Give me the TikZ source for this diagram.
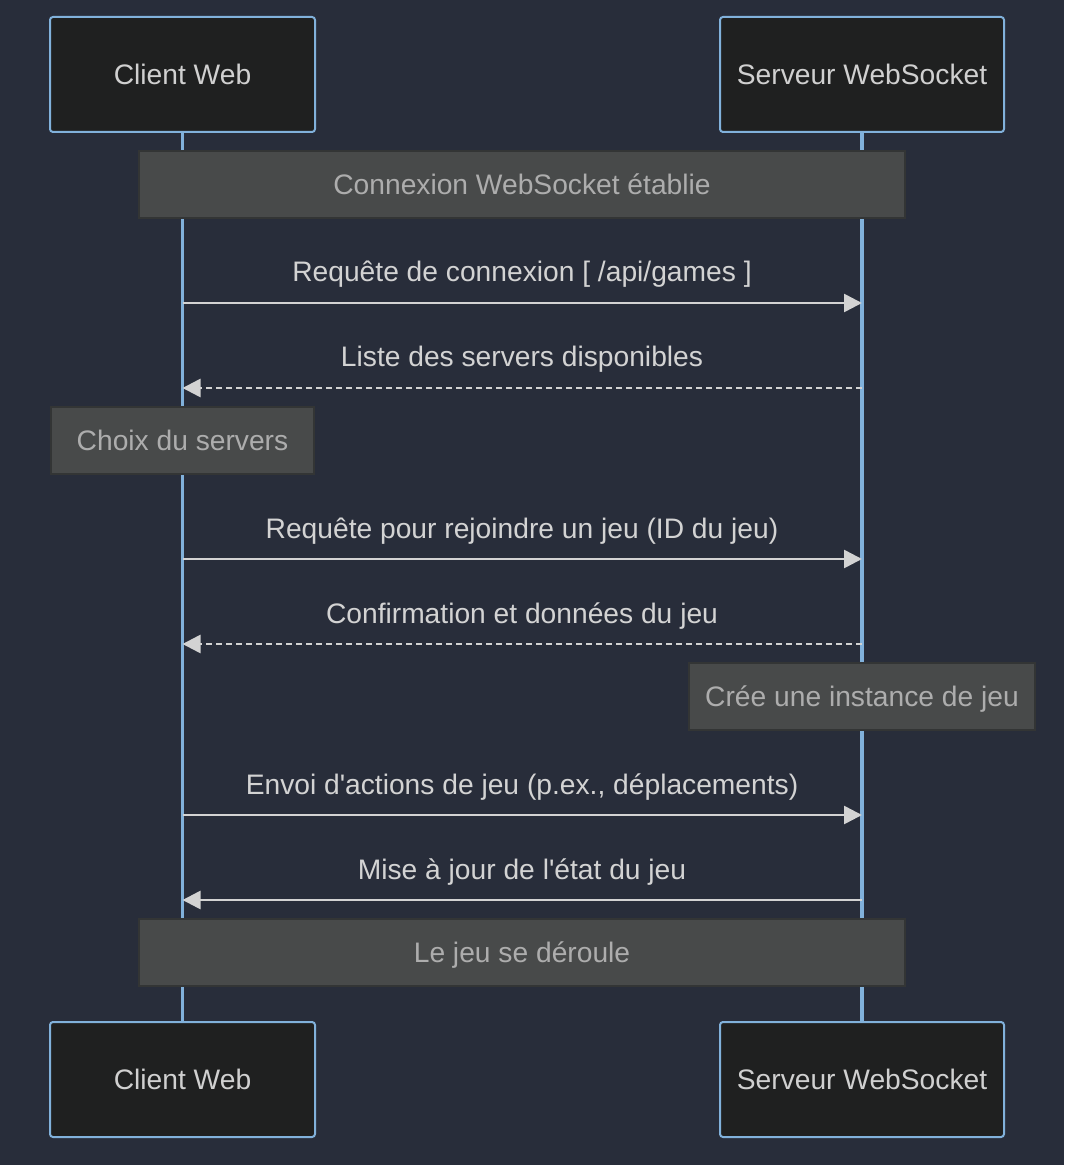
\documentclass[tikz,border=0pt]{standalone}
\usepackage{fontspec}
\setmainfont{Liberation Sans}
\usetikzlibrary{arrows.meta,positioning}
\definecolor{bgcol}{HTML}{282D3A}
\definecolor{actorfill}{HTML}{1F2020}
\definecolor{actorline}{HTML}{81B1DB}
\definecolor{notefill}{HTML}{484A4A}
\definecolor{noteline}{HTML}{333535}
\definecolor{notetext}{HTML}{ADADAD}
\definecolor{msgcol}{HTML}{D3D3D3}
\definecolor{actortext}{HTML}{D0D0D0}
\tikzstyle{actor}=[draw=actorline,fill=actorfill,line width=1pt,rounded corners=1.5pt,minimum width=132.5pt,minimum height=57.5pt,inner sep=0pt,text=actortext,text height=1em,text depth=0pt]
\tikzstyle{lifeline}=[draw=actorline,line width=1.8pt]
\tikzstyle{note}=[draw=noteline,fill=notefill,line width=0.6pt,minimum height=33.5pt,inner sep=0pt,text=notetext,text height=1em,text depth=0pt]
\tikzstyle{msg}=[draw=msgcol,line width=1.3pt,-{Triangle[length=9pt,width=9pt]}]
\tikzstyle{reply}=[msg,dash pattern=on 3pt off 2pt]
\tikzstyle{msgtext}=[text=msgcol,anchor=base,inner sep=0pt]

\begin{document}
\begin{tikzpicture}[x=0.5pt,y=-0.5pt,font=\fontsize{14.1pt}{17pt}\selectfont]
\path[use as bounding box,fill=bgcol] (0,0) rectangle (1064,1165);

    \def\xc{182.5}
    \def\xs{862}
    \def\xm{522}

%Actors
    \foreach \pos/\name/\label/\boxw in {{(\xc,74.5)/cl/Client Web/132.5pt}, {(\xs,74.5)/sv/Serveur WebSocket/142pt}, {(\xc,1079.5)/clb/Client Web/132.5pt}, {(\xs,1079.5)/svb/Serveur WebSocket/142pt}}
        \node[actor,minimum width=\boxw] (\name) at \pos {\label};

%Lifelines
    \foreach \top/\bot in {cl/clb, sv/svb}
        \path[lifeline] (\top) -- (\bot);

%Notes
    \node[note,minimum width=383pt] (n1) at (\xm,184.5) {Connexion WebSocket établie};
    \node[note,minimum width=131.5pt] (n2) at (\xc,440.5) {Choix du servers};
    \node[note,minimum width=173pt] (n3) at (\xs,696.5) {Crée une instance de jeu};
    \node[note,minimum width=383pt] (n4) at (\xm,952.5) {Le jeu se déroule};

% Points on the lifelines
    \foreach \y/\n in {303/1, 388/2, 559/3, 644/4, 815/5, 900/6} {
        \coordinate (c\n) at (\xc,\y);
        \coordinate (s\n) at (\xs,\y);
    }

% Messages
    \foreach \src/\dst/\y/\n/\sty/\lab in {c1/s1/303/1/msg/{Requête de connexion [ /api/games ]},
        s2/c2/388/2/reply/{Liste des servers disponibles},
        c3/s3/559/3/msg/{Requête pour rejoindre un jeu (ID du jeu)},
        s4/c4/644/4/reply/{Confirmation et données du jeu},
        c5/s5/815/5/msg/{Envoi d\textquotesingle actions de jeu (p.ex., déplacements)},
        s6/c6/900/6/msg/{Mise à jour de l\textquotesingle état du jeu}} {
        \path[\sty] (\src) -- (\dst);
        \node[msgtext] (lab\n) at (\xm,\y-21) {\lab};
    }

\end{tikzpicture}
\end{document}
